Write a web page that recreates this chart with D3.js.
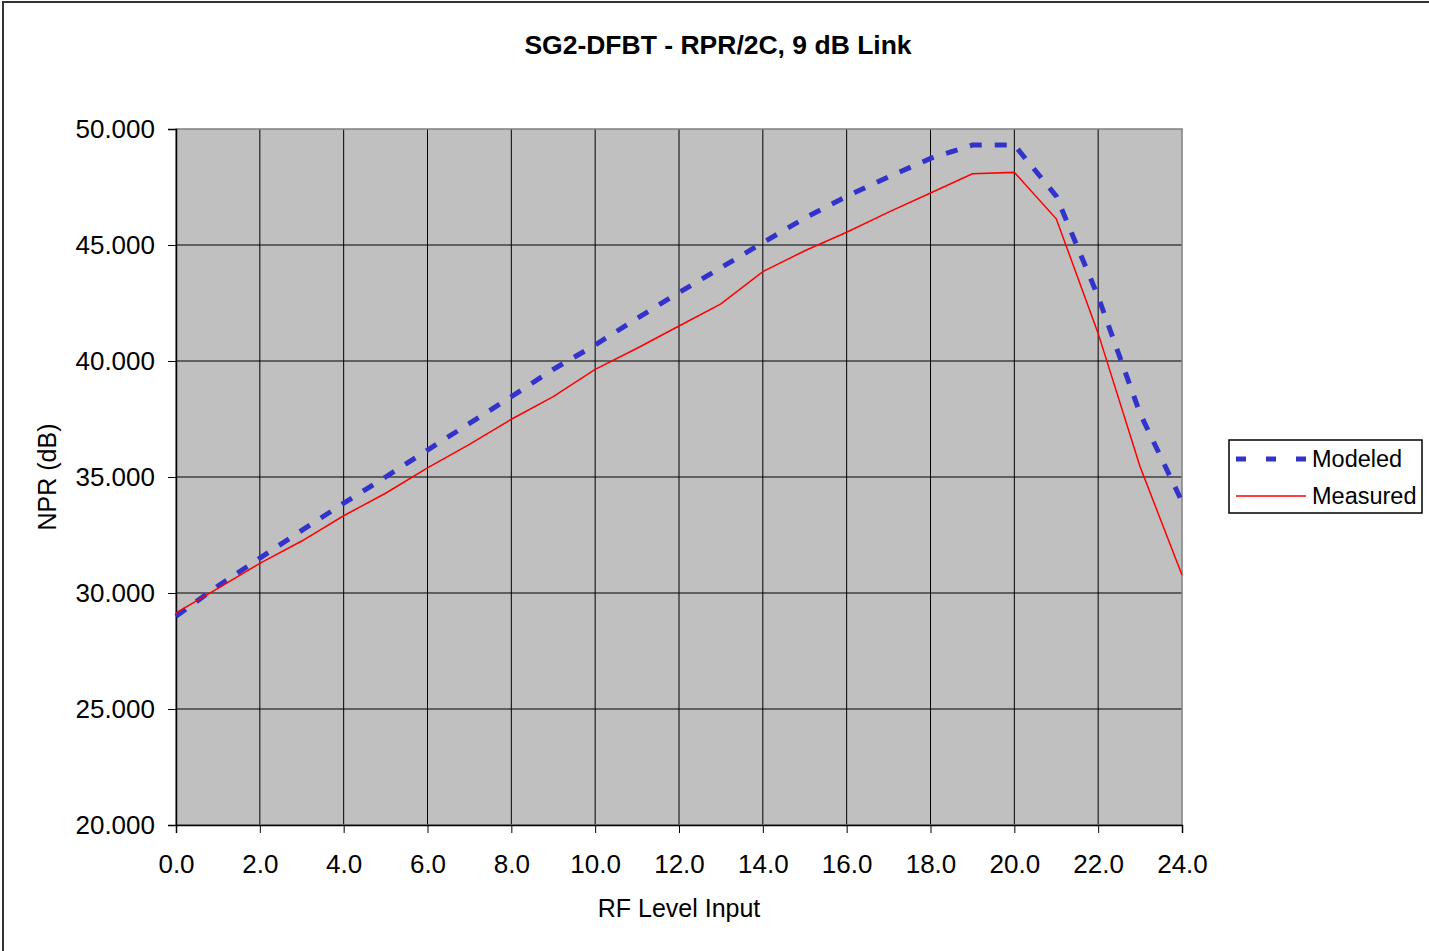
<!DOCTYPE html>
<html>
<head>
<meta charset="utf-8">
<script src="https://cdn.jsdelivr.net/npm/d3@7"></script>
<style>
  body { margin: 0; background: #fff; }
  svg { display: block; font-family: "Liberation Sans", Arial, sans-serif; }
</style>
</head>
<body>
<script>
const rfLevel = [0, 1, 2, 3, 4, 5, 6, 7, 8, 9, 10, 11, 12, 13, 14, 15, 16, 17, 18, 19, 20, 21, 22, 23, 24];
const modeled = [29.0, 30.3, 31.5, 32.7, 33.87, 35.0, 36.16, 37.31, 38.46, 39.64, 40.69, 41.84, 42.95, 44.02, 45.1, 46.16, 47.1, 47.94, 48.73, 49.31, 49.31, 47.11, 42.77, 37.74, 33.94];
const measured = [29.14, 30.2, 31.28, 32.24, 33.33, 34.3, 35.39, 36.41, 37.49, 38.46, 39.64, 40.55, 41.51, 42.46, 43.85, 44.75, 45.55, 46.42, 47.24, 48.07, 48.13, 46.13, 41.19, 35.44, 30.78];
const xTicks = [0, 2, 4, 6, 8, 10, 12, 14, 16, 18, 20, 22, 24];
const yTicks = [20, 25, 30, 35, 40, 45, 50];

const width = 1429, height = 951;
const margin = { left: 176, top: 129, right: 1429 - 1182, bottom: 951 - 825 };
const w = width - margin.left - margin.right;
const h = height - margin.top - margin.bottom;

const svg = d3.select("body").append("svg")
  .attr("width", width)
  .attr("height", height);

// outer chart frame (right/bottom edges fall off the picture)
svg.append("rect")
  .attr("x", 3).attr("y", 2)
  .attr("width", width + 10).attr("height", height + 10)
  .attr("fill", "none").attr("stroke", "#333").attr("stroke-width", 2);

const g = svg.append("g")
  .attr("transform", "translate(" + margin.left + "," + margin.top + ")");

const x = d3.scaleLinear().domain([0, 24]).range([0, w]);
const y = d3.scaleLinear().domain([20, 50]).range([h, 0]);

g.append("rect")
  .attr("width", w).attr("height", h)
  .attr("fill", "#c0c0c0");

// gridlines
g.selectAll(".vgrid").data(xTicks.slice(1, -1)).enter().append("line")
  .attr("x1", (d) => x(d)).attr("x2", (d) => x(d))
  .attr("y1", 0).attr("y2", h)
  .attr("stroke", "#000").attr("stroke-width", 1);
g.selectAll(".hgrid").data(yTicks.slice(1, -1)).enter().append("line")
  .attr("x1", 0).attr("x2", w)
  .attr("y1", (d) => y(d)).attr("y2", (d) => y(d))
  .attr("stroke", "#000").attr("stroke-width", 1);

// plot border
g.append("rect")
  .attr("width", w).attr("height", h)
  .attr("fill", "none").attr("stroke", "#808080").attr("stroke-width", 1.5);

const xAxis = g.append("g")
  .attr("transform", "translate(0," + h + ")")
  .call(d3.axisBottom(x).tickValues(xTicks).tickFormat(d3.format(".1f")).tickSize(8).tickPadding(22));
const yAxis = g.append("g")
  .call(d3.axisLeft(y).tickValues(yTicks).tickFormat(d3.format(".3f")).tickSize(8).tickPadding(13));

[xAxis, yAxis].forEach((a) => {
  a.select(".domain").attr("stroke", "#000").attr("stroke-width", 1.5);
  a.selectAll(".tick line").attr("stroke", "#000");
  a.selectAll("text").attr("fill", "#000").attr("font-size", 26)
    .attr("font-family", "'Liberation Sans', Arial, sans-serif");
});

const line = d3.line()
  .x((d, i) => x(rfLevel[i]))
  .y((d) => y(d));

g.append("path")
  .datum(modeled)
  .attr("fill", "none")
  .attr("stroke", "#3333cc")
  .attr("stroke-width", 5)
  .attr("stroke-dasharray", "12,13")
  .attr("d", line);

g.append("path")
  .datum(measured)
  .attr("fill", "none")
  .attr("stroke", "#ff0000")
  .attr("stroke-width", 1.5)
  .attr("d", line);

// title and axis labels
svg.append("text")
  .attr("x", 718).attr("y", 54)
  .attr("text-anchor", "middle")
  .attr("font-size", 26.5).attr("font-weight", "bold")
  .text("SG2-DFBT - RPR/2C, 9 dB Link");

svg.append("text")
  .attr("x", margin.left + w / 2).attr("y", 917)
  .attr("text-anchor", "middle")
  .attr("font-size", 25)
  .text("RF Level Input");

svg.append("text")
  .attr("transform", "translate(56," + (margin.top + h / 2) + ") rotate(-90)")
  .attr("text-anchor", "middle")
  .attr("font-size", 25)
  .text("NPR (dB)");

// legend
const legend = svg.append("g").attr("transform", "translate(1229,440)");
legend.append("rect")
  .attr("width", 193).attr("height", 73)
  .attr("fill", "#fff").attr("stroke", "#000").attr("stroke-width", 1.5);

const legendItems = [
  { name: "Modeled", color: "#3333cc", width: 5, dash: "10,20" },
  { name: "Measured", color: "#ff0000", width: 1.5, dash: null }
];
legendItems.forEach((item, i) => {
  const ly = 19 + i * 37;
  legend.append("line")
    .attr("x1", 7).attr("x2", 77)
    .attr("y1", ly).attr("y2", ly)
    .attr("stroke", item.color)
    .attr("stroke-width", item.width)
    .attr("stroke-dasharray", item.dash);
  legend.append("text")
    .attr("x", 83).attr("y", ly + 8)
    .attr("font-size", 23.5)
    .text(item.name);
});
</script>
</body>
</html>
